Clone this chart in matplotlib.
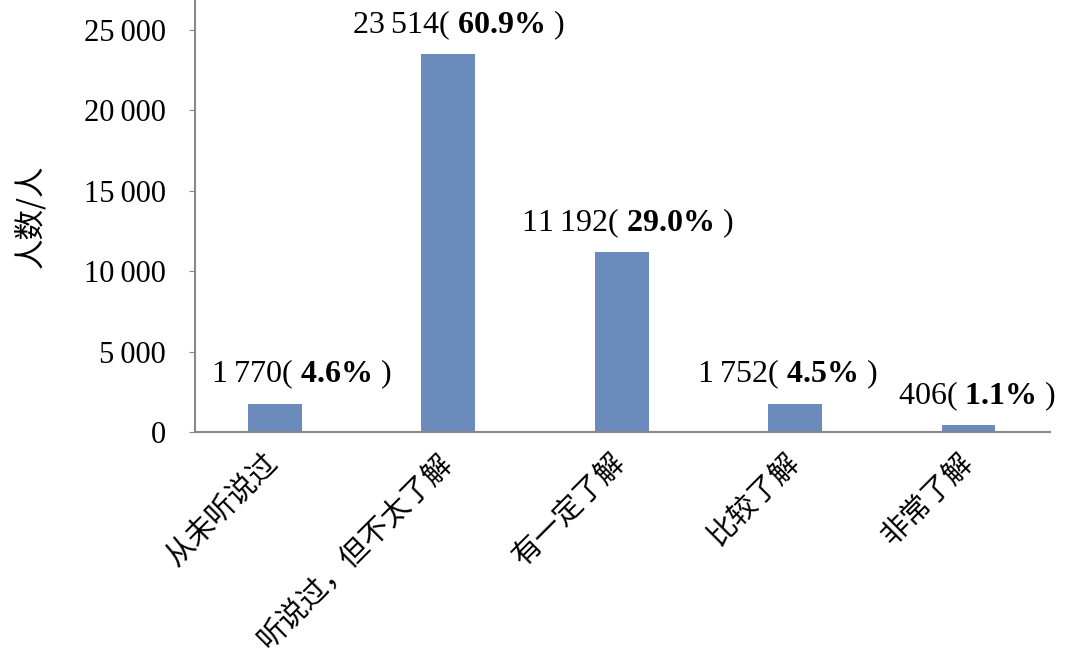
import matplotlib.pyplot as plt
from matplotlib.ticker import FuncFormatter

plt.rcParams['font.family'] = ['Liberation Serif', 'Noto Sans CJK SC']
plt.rcParams['mathtext.fontset'] = 'custom'
plt.rcParams['mathtext.rm'] = 'Liberation Serif'
plt.rcParams['mathtext.bf'] = 'Liberation Serif:bold'

categories = ['从未听说过', '听说过，但不太了解', '有一定了解', '比较了解', '非常了解']
counts = [1770, 23514, 11192, 1752, 406]
shares = [4.6, 60.9, 29.0, 4.5, 1.1]

# labels in the original are nudged by hand, horizontal shift in points
label_dx = [19, 7, 4, -6, 6]


def thousands(x, pos):
    # space as thousands separator, e.g. 25 000
    return '{:,.0f}'.format(x).replace(',', '\u2009')


fig = plt.figure(figsize=(10.74, 6.63), dpi=100)
ax = fig.add_axes([0.1816, 0.3484, 0.7961, 0.6516])

x = range(len(categories))
ax.bar(x, counts, width=0.31, color='#6a8bbb')

for i, (c, s) in enumerate(zip(counts, shares)):
    # percentage in bold, like the original
    label = thousands(c, None) + '( ' + r'$\mathbf{' + '{:.1f}'.format(s) + r'\%}$' + ' )'
    ax.annotate(label, (i, c), xytext=(label_dx[i], 21), textcoords='offset points',
                ha='center', va='center', fontsize=23)

ax.set_xlim(-0.46, 4.47)
ax.set_ylim(0, 26870)
ax.set_yticks([0, 5000, 10000, 15000, 20000, 25000])
ax.yaxis.set_major_formatter(FuncFormatter(thousands))
ax.tick_params(axis='y', labelsize=22, length=4, color='#888888', pad=17)
ax.tick_params(axis='x', length=0, pad=19)
ax.set_xticks(list(x))
ax.set_xticklabels(categories, rotation=45, ha='right', va='center',
                   rotation_mode='anchor', fontsize=21,
                   family=['Noto Sans CJK SC'])

ax.set_ylabel('人数/人', fontsize=22, family=['Noto Sans CJK SC'], labelpad=27)

for side in ['top', 'right']:
    ax.spines[side].set_visible(False)
for side in ['left', 'bottom']:
    ax.spines[side].set_color('#888888')
    ax.spines[side].set_linewidth(1.5)

fig.savefig('out.png', dpi=100)
